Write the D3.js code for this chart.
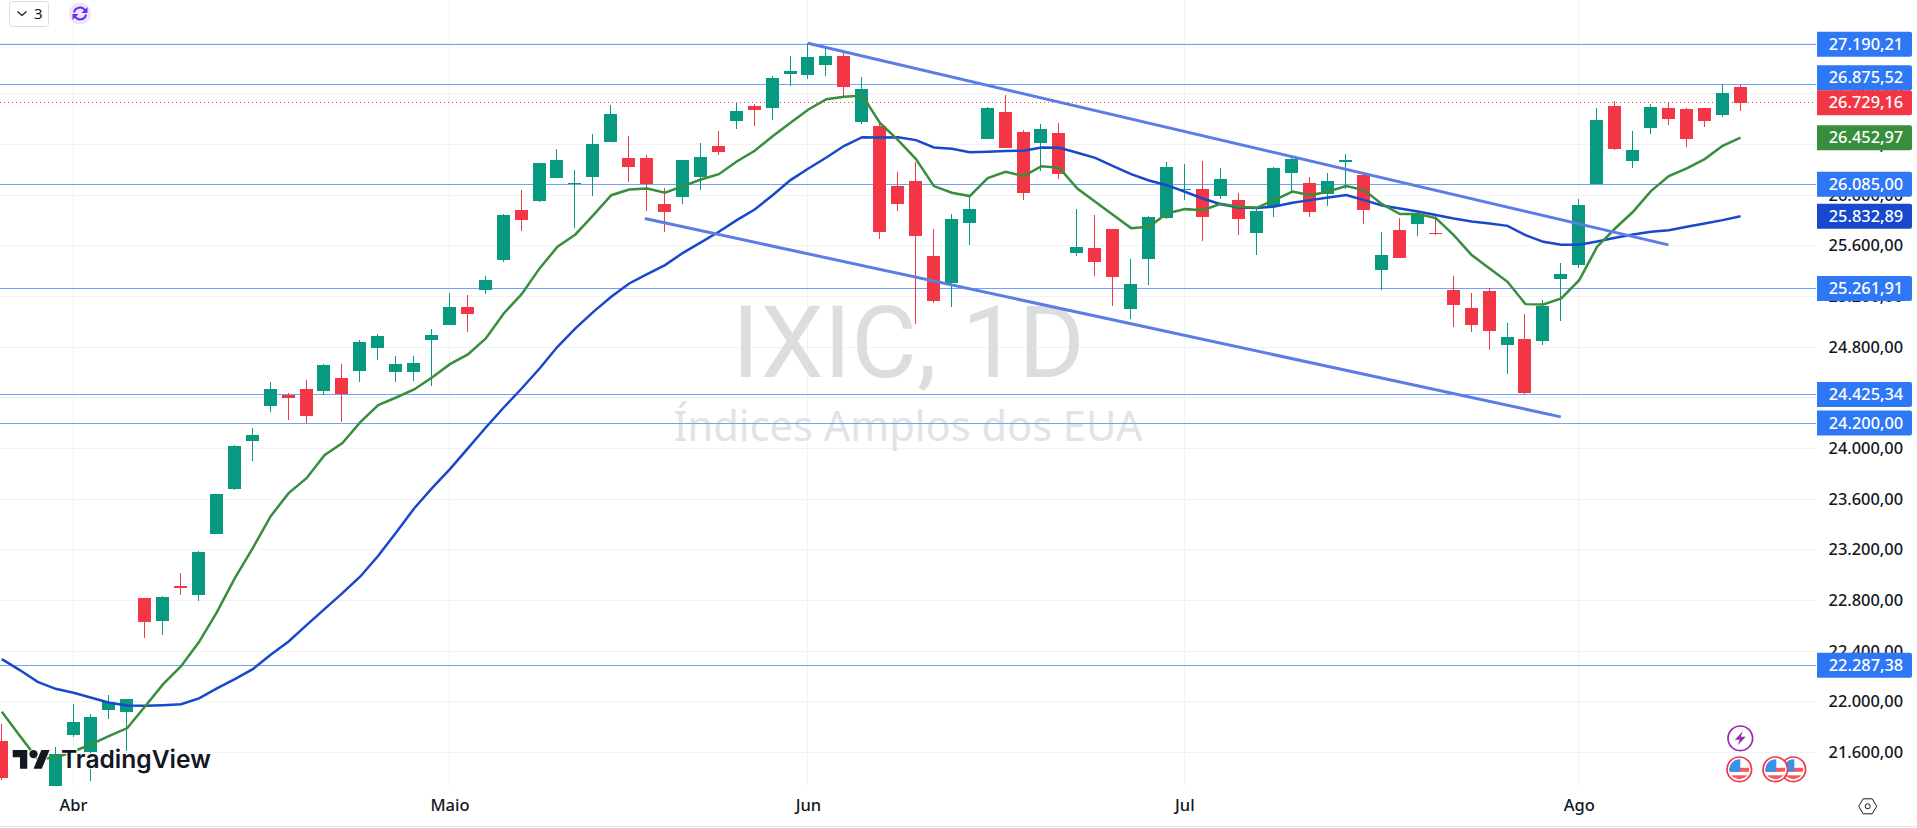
<!DOCTYPE html>
<html>
<head>
<meta charset="utf-8">
<script src="https://cdn.jsdelivr.net/npm/d3@7"></script>
<style>
html, body { margin: 0; padding: 0; background: #fff; overflow: hidden; }
svg { display: block; }
text { font-family: "Noto Sans", sans-serif; }
</style>
</head>
<body>
<div id="chart"></div>
<script>
const svgWidth = 1917, svgHeight = 828;

// daily candles, first four sit left of the first month tick
const opens = [21689,21300,21050,21250,21736,21602,21934,21918,22818,22636,22913,22842,23323,23679,24057,24334,24421,24468,24452,24555,24610,24792,24602,24602,24855,24973,25115,25249,25486,25881,25952,26134,26086,26142,26418,26292,26292,25928,25984,26142,26386,26584,26702,26686,26955,26947,27026,27097,26576,26544,26071,26110,25518,25305,25778,26442,26655,26497,26410,26489,25542,25581,25731,25100,25494,25818,26039,26047,25992,25960,25699,25913,26173,26094,26007,26260,26157,25407,25723,25771,25699,25249,25107,25242,24815,24863,24847,25336,25447,26086,26702,26268,26528,26686,26678,26686,26631,26852];
const highs = [21823,21320,21200,21639,21981,21902,22052,22021,22818,22834,23015,23189,23639,24026,24160,24523,24436,24539,24665,24665,24855,24902,24728,24728,24942,25226,25210,25360,25850,26039,26252,26363,26197,26481,26710,26465,26315,26055,26276,26410,26505,26726,26718,26939,27097,27199,27176,27136,26931,26576,26181,26260,25731,25850,26000,26694,26789,26513,26560,26568,25889,25842,25731,25494,25834,26260,26244,26268,26213,26015,25894,26221,26307,26142,26173,26323,26173,25707,25818,25881,25842,25360,25226,25265,24989,25060,25171,25463,25968,26686,26742,26505,26718,26726,26686,26686,26876,26868];
const lows = [21380,21000,20900,21200,21721,21376,21863,21610,22502,22526,22842,22794,23323,23671,23900,24286,24226,24200,24421,24207,24523,24697,24523,24531,24492,24973,24918,25218,25471,25715,25944,26134,25739,25992,26418,26102,25873,25707,25928,26039,26315,26521,26544,26592,26860,26915,26939,26773,26560,25652,25873,24981,25147,25115,25605,26442,26371,25960,26189,26126,25518,25360,25123,25021,25289,25810,25960,25636,25968,25684,25526,25826,26023,25826,25913,26047,25771,25249,25502,25676,25684,24957,24918,24776,24586,24428,24815,25005,25423,26086,26355,26213,26481,26552,26378,26536,26615,26663];
const closes = [21400,21050,21100,21586,21839,21878,21997,22021,22628,22826,22897,23181,23639,24018,24105,24468,24397,24257,24657,24428,24839,24886,24665,24673,24894,25115,25060,25328,25842,25802,26252,26276,26097,26402,26639,26221,26086,25865,26276,26300,26339,26663,26671,26923,26978,27089,27097,26852,26836,25707,25928,25676,25163,25810,25889,26686,26371,26015,26521,26165,25589,25471,25352,25297,25826,26221,26047,25826,26126,25810,25873,26213,26284,25865,26110,26276,25881,25526,25502,25842,25692,25131,24973,24926,24878,24436,25123,25376,25921,26592,26363,26355,26694,26600,26442,26584,26805,26729];

const maFast = [21921,21731,21547,21560,21607,21665,21731,21792,21965,22139,22281,22471,22707,22976,23213,23465,23647,23765,23947,24042,24207,24342,24402,24465,24560,24665,24742,24868,25065,25218,25421,25592,25689,25842,25999,26044,26052,26018,26071,26123,26165,26265,26350,26465,26571,26676,26757,26776,26786,26568,26434,26284,26071,26018,25992,26134,26184,26150,26228,26215,26052,25947,25842,25739,25750,25855,25889,25881,25931,25907,25899,25960,26028,25999,26028,26071,26039,25928,25850,25850,25818,25684,25526,25421,25315,25139,25136,25184,25328,25592,25736,25868,26031,26150,26210,26284,26389,26453];
const maSlow = [22336,22250,22157,22102,22071,22031,21992,21971,21968,21973,21981,22026,22105,22178,22257,22371,22476,22605,22731,22857,22989,23152,23336,23526,23686,23836,24000,24165,24323,24473,24631,24802,24947,25078,25197,25302,25376,25447,25544,25626,25710,25802,25886,25999,26118,26210,26297,26389,26457,26455,26457,26434,26376,26365,26339,26342,26347,26350,26376,26373,26334,26294,26228,26165,26115,26078,26026,25973,25928,25902,25897,25910,25939,25960,25981,26000,25960,25918,25894,25871,25842,25815,25792,25776,25757,25684,25631,25607,25607,25634,25663,25689,25710,25723,25750,25776,25802,25833];

const priceTicks = [21600,22000,22400,22800,23200,23600,24000,24400,24800,25200,25600,26000,26400,26800,27200];
const monthNames = ["Abr","Maio","Jun","Jul","Ago"];
const monthBars = [4,25,45,66,88];
const levels = [27190.21,26875.52,26085,25261.91,24425.34,24200,22287.38];
const lastPrice = 26729.16, lastFast = 26452.97, lastSlow = 25832.89;

// channel drawn by hand on the chart: [bar, price]
const channelTop = [[45,27199],[93,25607]];
const channelBottom = [[35.9,25815],[87,24249]];

const green = "#089981", red = "#f23645", levelBlue = "#6ea3f8", tagBlue = "#2f78f5";
const paneRight = 1816, paneBottom = 786;

const x = d3.scaleLinear().domain([4,97]).range([73.02,1740.05]);
const y = d3.scaleLinear().domain([21600,24000]).range([752.4,448.4]);

const locale = d3.formatLocale({decimal: ",", thousands: ".", grouping: [3], currency: ["",""]});
const fmt = locale.format(",.2f");

const svg = d3.select("#chart").append("svg")
  .attr("width", svgWidth)
  .attr("height", svgHeight);

svg.append("defs").append("clipPath").attr("id","pane")
  .append("rect").attr("width",paneRight).attr("height",paneBottom);

const pane = svg.append("g").attr("clip-path","url(#pane)");

// grid
pane.selectAll(".hgrid").data(priceTicks).enter().append("line")
  .attr("x1",0).attr("x2",paneRight)
  .attr("y1",d => Math.floor(y(d))+0.5).attr("y2",d => Math.floor(y(d))+0.5)
  .attr("stroke","#f1f2f4");
pane.selectAll(".vgrid").data(monthBars).enter().append("line")
  .attr("y1",0).attr("y2",paneBottom)
  .attr("x1",d => Math.floor(x(d))+0.5).attr("x2",d => Math.floor(x(d))+0.5)
  .attr("stroke","#f1f2f4");

// watermark
pane.append("text").attr("x",908.5).attr("y",377)
  .attr("text-anchor","middle")
  .style("font-family","Roboto, sans-serif")
  .style("font-size","101px")
  .attr("fill","#dcddde")
  .text("IXIC, 1D");
pane.append("text").attr("x",908).attr("y",441)
  .attr("text-anchor","middle")
  .style("font-size","41.6px")
  .attr("fill","#e2e3e4")
  .text("Índices Amplos dos EUA");

// horizontal levels
pane.selectAll(".level").data(levels).enter().append("line")
  .attr("x1",0).attr("x2",paneRight)
  .attr("y1",d => Math.floor(y(d))+0.5).attr("y2",d => Math.floor(y(d))+0.5)
  .attr("stroke",levelBlue);

pane.append("line")
  .attr("x1",0).attr("x2",paneRight)
  .attr("y1",Math.floor(y(lastPrice))+0.5).attr("y2",Math.floor(y(lastPrice))+0.5)
  .attr("stroke",red).attr("stroke-dasharray","1 3");

// candles
const bars = d3.range(opens.length);
const candle = pane.selectAll(".candle").data(bars).enter().append("g")
  .attr("fill",i => closes[i] >= opens[i] ? green : red);
candle.append("rect")
  .attr("x",i => Math.floor(x(i)))
  .attr("width",1)
  .attr("y",i => Math.round(y(highs[i])))
  .attr("height",i => Math.max(1,Math.round(y(lows[i]))-Math.round(y(highs[i]))));
candle.append("rect")
  .attr("x",i => Math.floor(x(i))-6)
  .attr("width",13)
  .attr("y",i => Math.round(y(Math.max(opens[i],closes[i]))))
  .attr("height",i => Math.max(1,Math.round(y(Math.min(opens[i],closes[i])))-Math.round(y(Math.max(opens[i],closes[i])))));

// moving averages
const maLine = d3.line().x((d,i) => x(i)+0.5).y(d => y(d));
pane.append("path").attr("d",maLine(maSlow))
  .attr("fill","none").attr("stroke","#1848cc").attr("stroke-width",2.5);
pane.append("path").attr("d",maLine(maFast))
  .attr("fill","none").attr("stroke","#388e3c").attr("stroke-width",2.5);

// channel
const channelLine = d3.line().x(d => x(d[0])).y(d => y(d[1]));
[channelTop, channelBottom].forEach(c => {
  pane.append("path").attr("d",channelLine(c))
    .attr("fill","none").attr("stroke","#5b7de4").attr("stroke-width",3);
});

// logo
const logo = svg.append("g");
logo.append("text").attr("x",61).attr("y",768)
  .style("font-family","Inter, sans-serif")
  .style("font-size","24.6px").style("font-weight",600)
  .attr("fill","#131722").attr("stroke","#fff").attr("stroke-width",2)
  .attr("paint-order","stroke")
  .text("TradingView");
const mark = logo.append("g").attr("transform","translate(12.7,745.8) scale(1.04)").attr("fill","#131722")
  .attr("stroke","#fff").attr("stroke-width",1.5).attr("paint-order","stroke");
mark.append("path").attr("d","M14 22H7V11H0V4h14v18zM28 22h-8l7.5-18h8L28 22z");
mark.append("circle").attr("cx",20).attr("cy",8).attr("r",4);

// time axis
const timeAxis = d3.axisBottom(x).tickValues(monthBars).tickSize(0)
  .tickFormat((d,i) => monthNames[i]);
const timeG = svg.append("g").attr("transform","translate(0,792)").call(timeAxis);
timeG.select(".domain").remove();
timeG.selectAll("text").attr("fill","#131722").attr("dy",0).attr("y",19)
  .style("font-size","16.5px").style("font-weight",500).style("font-family","'Noto Sans', sans-serif");

svg.append("line").attr("x1",0).attr("x2",svgWidth).attr("y1",826.5).attr("y2",826.5).attr("stroke","#e6e7ea");

// price axis
const priceAxis = d3.axisRight(y).tickValues(priceTicks).tickSize(0).tickFormat(d => fmt(d));
const priceG = svg.append("g").attr("transform","translate(1820,0)").call(priceAxis);
priceG.select(".domain").remove();
priceG.selectAll("text").attr("x",8.5).attr("fill","#131722")
  .style("font-size","16.4px").style("font-weight",500).style("font-family","'Noto Sans', sans-serif");

// price tags
function priceTag(v, colour) {
  let cy = y(v);
  // tag right above the last price gets pushed up, it does not sit under it
  if (v > lastPrice && cy > y(lastPrice)-25) cy = y(lastPrice)-25;
  const g = svg.append("g").attr("transform",`translate(1817,${cy-12.5})`);
  g.append("path").attr("d","M0 0H93a2 2 0 0 1 2 2V23a2 2 0 0 1 -2 2H0Z").attr("fill",colour);
  g.append("text").attr("x",11.7).attr("y",12.5).attr("dy","0.35em")
    .attr("fill","#fff").style("font-size","16.4px").style("font-weight",500).text(fmt(v));
}
levels.forEach(v => priceTag(v, tagBlue));
priceTag(lastFast, "#388e3c");
priceTag(lastSlow, "#1848cc");
priceTag(lastPrice, red);

// top left controls
const btn = svg.append("g");
btn.append("rect").attr("x",9.5).attr("y",1.5).attr("width",39).attr("height",25).attr("rx",3)
  .attr("fill","#fff").attr("stroke","#d9dbe0");
btn.append("path").attr("d","M17.5 11.5l4.5 4 4.5-4").attr("fill","none").attr("stroke","#131722").attr("stroke-width",1.3);
btn.append("text").attr("x",34).attr("y",19).attr("fill","#131722").style("font-size","15px").text("3");

const sync = svg.append("g").attr("transform","translate(80,13.5)");
sync.append("circle").attr("r",11).attr("fill","#ebe6f8");
sync.append("path").attr("d","M-6 -1A6 6 0 0 1 5 -3M6 1A6 6 0 0 1 -5 3")
  .attr("fill","none").attr("stroke","#6a2cf5").attr("stroke-width",2);
sync.append("path").attr("d","M7.5 -6.5V-0.5H1.5ZM-7.5 6.5V0.5H-1.5Z").attr("fill","#6a2cf5");

// event icons
const lightning = svg.append("g").attr("transform","translate(1740.3,738.3)");
lightning.append("circle").attr("r",12.3).attr("fill","#fff").attr("stroke","#9c27b0").attr("stroke-width",1.7);
lightning.append("path").attr("d","M2.5 -7L-5.5 1.5H-0.5L-2.5 7L5.5 -1.5H0.5Z").attr("fill","#9c27b0");

function flagIcon(cx, cy, id) {
  const g = svg.append("g").attr("transform",`translate(${cx},${cy})`);
  g.append("clipPath").attr("id",id).append("circle").attr("r",10);
  g.append("circle").attr("r",12.3).attr("fill","#fff").attr("stroke","#f23645").attr("stroke-width",1.7);
  const f = g.append("g").attr("clip-path",`url(#${id})`);
  f.append("rect").attr("x",-11).attr("y",-1.5).attr("width",22).attr("height",4).attr("fill","#f4595f");
  f.append("rect").attr("x",-11).attr("y",6).attr("width",22).attr("height",5).attr("fill","#f4595f");
  f.append("rect").attr("x",-11).attr("y",-11).attr("width",12).attr("height",13.5).attr("fill","#3d8fe8");
}
flagIcon(1793.3,769.3,"flagC");
flagIcon(1739.3,769.3,"flagA");
flagIcon(1775.3,769.3,"flagB");

// settings hexagon
const gear = svg.append("g").attr("transform","translate(1867.7,806.3)")
  .attr("fill","none").attr("stroke","#131722").attr("stroke-width",1);
gear.append("path").attr("d","M-9 0L-4.5 -7.5H4.5L9 0L4.5 7.5H-4.5Z");
gear.append("circle").attr("r",2.5);
</script>
</body>
</html>
